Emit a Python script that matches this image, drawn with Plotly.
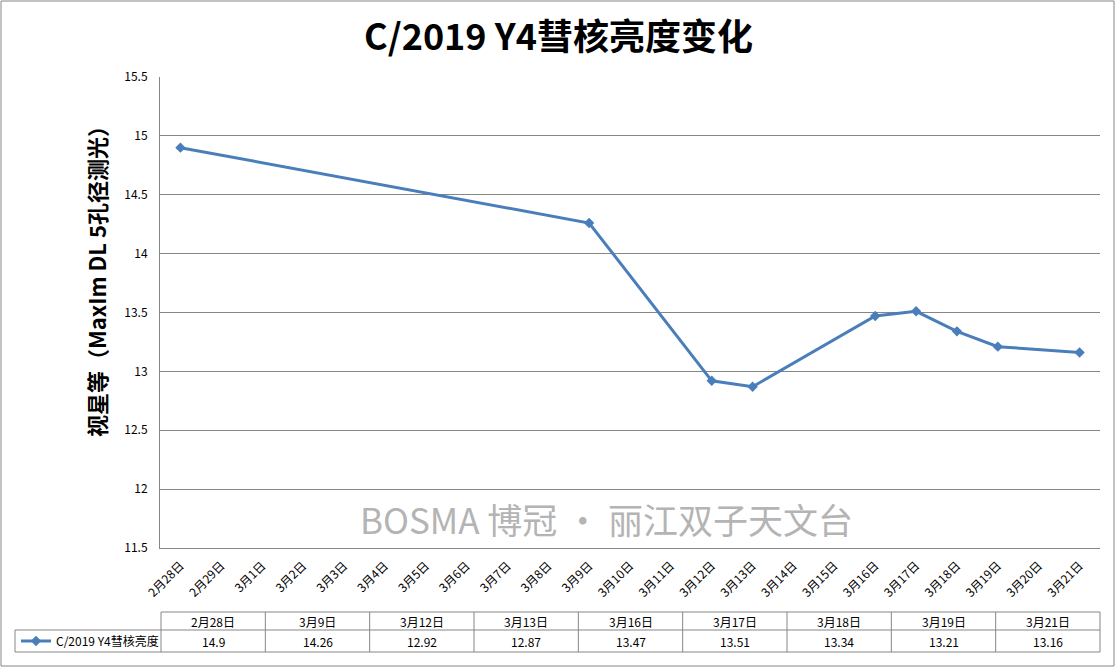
import plotly.graph_objects as go

# ---- data ----
all_days = ["2月28日", "2月29日"] + [f"3月{d}日" for d in range(1, 22)]
obs_dates = ["2月28日", "3月9日", "3月12日", "3月13日", "3月16日",
             "3月17日", "3月18日", "3月19日", "3月21日"]
magnitudes = [14.9, 14.26, 12.92, 12.87, 13.47, 13.51, 13.34, 13.21, 13.16]
series_name = "C/2019 Y4彗核亮度"
title_text = "C/2019 Y4彗核亮度变化"
y_title = "视星等（MaxIm DL 5孔径测光）"
watermark = "BOSMA 博冠 · 丽江双子天文台"

W, H = 1117, 668
L, R, T, B = 160, 1100, 77, 548
FONT = "Noto Sans CJK SC"
GRID = "#868686"
BLUE = "#4A7EBB"


def px(xp):
    return (xp - L) / (R - L)


def py(yp):
    return (B - yp) / (B - T)


fig = go.Figure()
fig.add_trace(go.Scatter(
    x=obs_dates, y=magnitudes, name=series_name,
    mode="lines+markers",
    line=dict(color=BLUE, width=3),
    marker=dict(symbol="diamond", size=8, color=BLUE),
    showlegend=True,
))

shapes = []
annotations = []

# outer border
shapes.append(dict(type="rect", xref="paper", yref="paper",
                   x0=px(1), x1=px(1114), y0=py(1), y1=py(666),
                   line=dict(color=GRID, width=1), fillcolor="rgba(0,0,0,0)"))

# data table
tab_left, tab_right = 161, 1100
leg_left = 15
row_top, row_mid, row_bot = 612, 630, 652
n = len(obs_dates)
cw = (tab_right - tab_left) / n
line_style = dict(color=GRID, width=1)
shapes.append(dict(type="line", xref="paper", yref="paper",
                   x0=px(tab_left), x1=px(tab_right), y0=py(row_top), y1=py(row_top), line=line_style))
for yy in (row_mid, row_bot):
    shapes.append(dict(type="line", xref="paper", yref="paper",
                       x0=px(leg_left), x1=px(tab_right), y0=py(yy), y1=py(yy), line=line_style))
shapes.append(dict(type="line", xref="paper", yref="paper",
                   x0=px(leg_left), x1=px(leg_left), y0=py(row_mid), y1=py(row_bot), line=line_style))
for i in range(n + 1):
    xx = tab_left + i * cw
    shapes.append(dict(type="line", xref="paper", yref="paper",
                       x0=px(xx), x1=px(xx), y0=py(row_top), y1=py(row_bot), line=line_style))
for i, (d, v) in enumerate(zip(obs_dates, magnitudes)):
    cx = tab_left + (i + 0.5) * cw
    annotations.append(dict(xref="paper", yref="paper", x=px(cx), y=py((row_top + row_mid) / 2),
                            text=d, showarrow=False, xanchor="center", yanchor="middle",
                            font=dict(size=12, color="black", family=FONT)))
    annotations.append(dict(xref="paper", yref="paper", x=px(cx), y=py((row_mid + row_bot) / 2),
                            text=str(v), showarrow=False, xanchor="center", yanchor="middle",
                            font=dict(size=12, color="black", family=FONT)))

# y axis title
annotations.append(dict(xref="paper", yref="paper", x=px(96), y=py(276),
                        text="<b>" + y_title + "</b>", textangle=-90, showarrow=False,
                        xanchor="center", yanchor="middle",
                        font=dict(size=22, color="black", family=FONT)))
# watermark
annotations.append(dict(xref="paper", yref="paper", x=px(606), y=py(518),
                        text=watermark, showarrow=False, xanchor="center", yanchor="middle",
                        font=dict(size=35, color="#b4b4b4", family=FONT)))

fig.update_layout(
    width=W, height=H,
    margin=dict(l=L, r=W - R, t=T, b=H - B, autoexpand=False),
    paper_bgcolor="white", plot_bgcolor="white",
    font=dict(family=FONT, color="black"),
    title=dict(text="<b>" + title_text + "</b>", x=0.5, xref="container", xanchor="center",
               y=1 - 37 / H, yref="container", yanchor="middle",
               font=dict(size=36, color="black", family=FONT)),
    xaxis=dict(type="category", categoryorder="array", categoryarray=all_days,
               range=[-0.5, len(all_days) - 0.5],
               tickangle=-45, tickfont=dict(size=12, color="black"),
               showgrid=False, showline=True, linecolor=GRID, linewidth=1,
               ticks="", zeroline=False, automargin=False, ticklabelstandoff=5),
    yaxis=dict(range=[11.5, 15.5], dtick=0.5, tick0=11.5,
               tickfont=dict(size=12, color="black"),
               showgrid=True, gridcolor=GRID, gridwidth=1,
               showline=True, linecolor=GRID, linewidth=1, ticks="", zeroline=False,
               automargin=False, ticklabelstandoff=9),
    legend=dict(x=px(leg_left + 1), y=py((row_mid + row_bot) / 2), xanchor="left", yanchor="middle",
                bgcolor="rgba(0,0,0,0)", font=dict(size=12, color="black", family=FONT),
                itemwidth=30),
    shapes=shapes,
    annotations=annotations,
)

fig.write_html("out.html", config={"displayModeBar": False},
               post_script="document.body.style.margin='0';")
